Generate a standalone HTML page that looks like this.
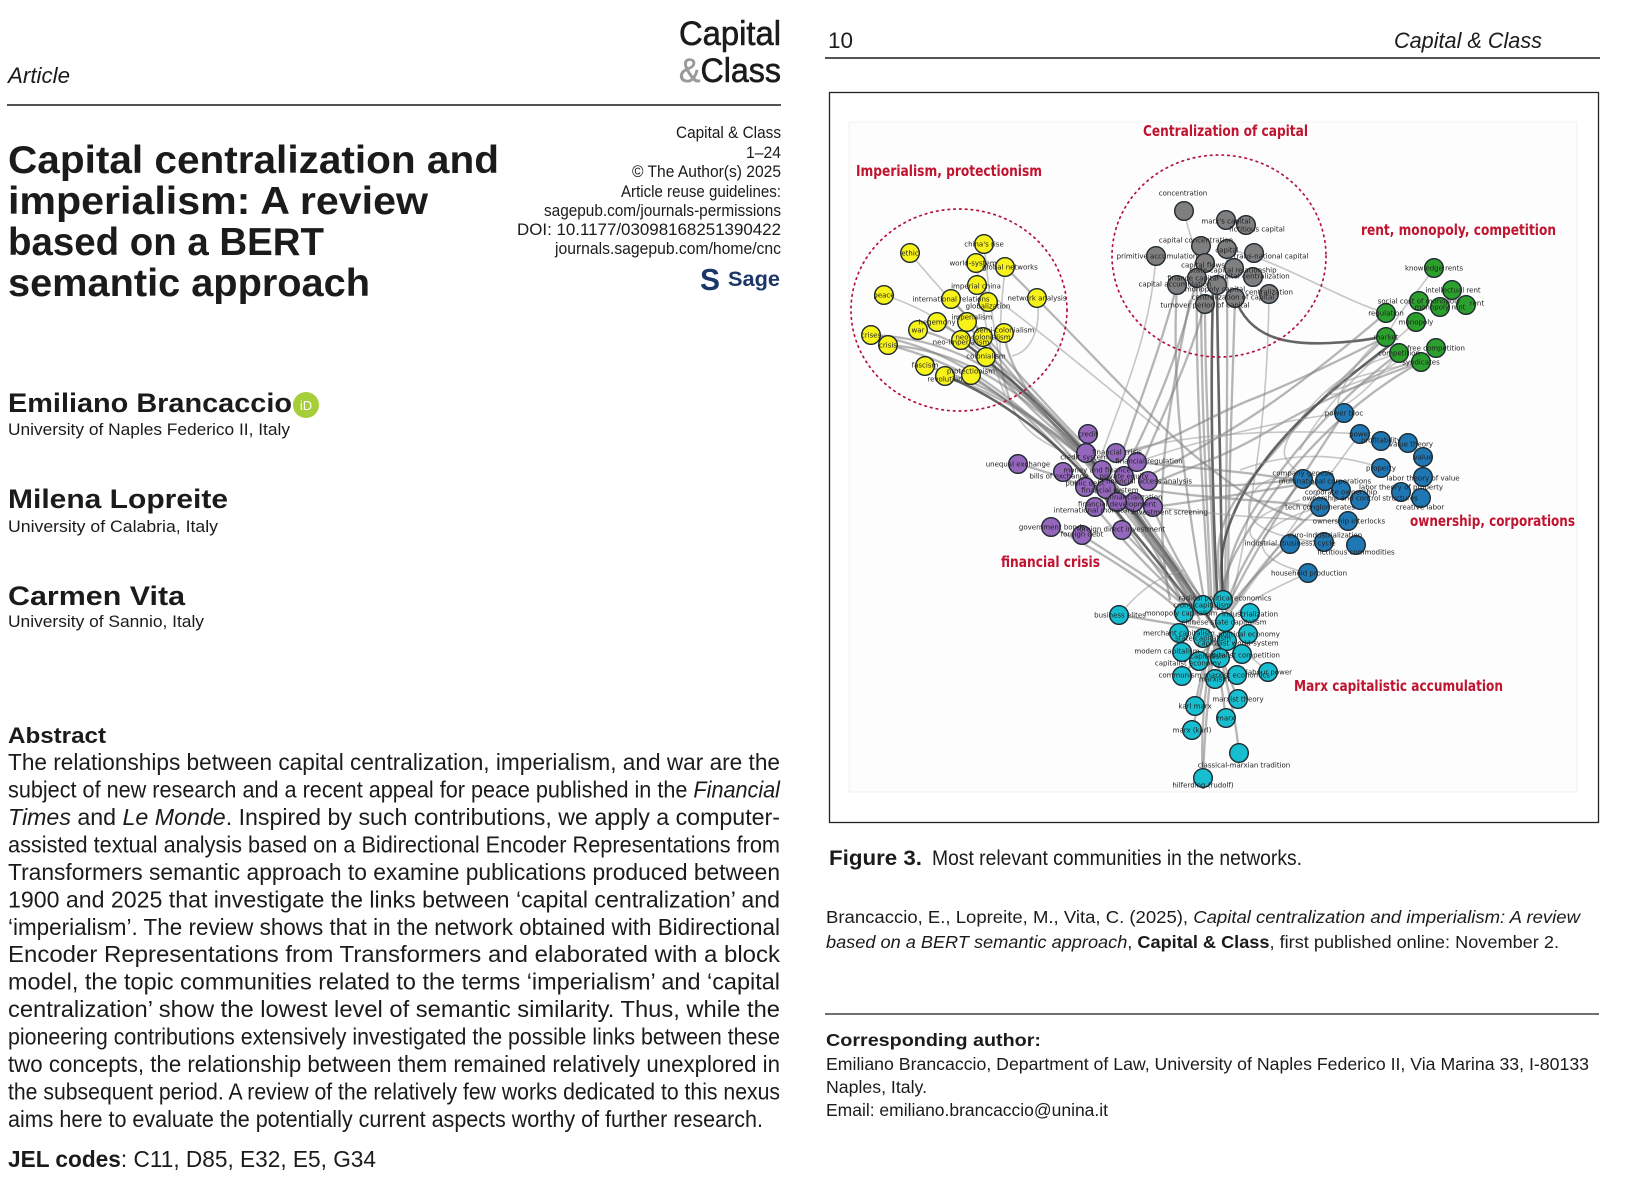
<!DOCTYPE html>
<html><head><meta charset="utf-8"><style>
html,body{margin:0;padding:0;background:#fff}
svg{display:block}
.t{font-family:"Liberation Sans",sans-serif;fill:#1c1a1b}
.b{font-weight:bold}
.i{font-style:italic}
.lab{font-family:"DejaVu Sans","Liberation Sans",sans-serif;font-size:7px;fill:#222;text-anchor:middle}
.red{font-family:"DejaVu Sans","Liberation Sans",sans-serif;font-weight:bold;fill:#c0132f}
.e{fill:none;stroke:#7a7a7a;stroke-opacity:.55;stroke-width:2.3}
.ed{fill:none;stroke:#4a4a4a;stroke-opacity:.85;stroke-width:2.6}
.el{fill:none;stroke:#999;stroke-opacity:.55;stroke-width:1.6}
.ny{fill:#f7f21a}.ng{fill:#7f7f7f}.ngr{fill:#2ca02c}.np{fill:#9467bd}.nb{fill:#1f77b4}.nc{fill:#17becf}
circle.n{stroke:#1e2a30;stroke-width:1.4}
.dash{fill:none;stroke:#b3123a;stroke-width:1.7;stroke-dasharray:1.5 4.3;stroke-linecap:round}
</style></head><body>
<svg width="1636" height="1196" viewBox="0 0 1636 1196" xmlns="http://www.w3.org/2000/svg">
<rect width="1636" height="1196" fill="#fff"/>

<!-- LEFT PAGE -->
<text class="t i" x="8" y="83" font-size="22" textLength="62" lengthAdjust="spacingAndGlyphs">Article</text>
<text class="t" x="679" y="45" font-size="34" stroke="#1c1a1b" stroke-width="0.6" textLength="102" lengthAdjust="spacingAndGlyphs">Capital</text>
<text class="t" x="679" y="82" font-size="34" stroke="#1c1a1b" stroke-width="0.6" textLength="102" lengthAdjust="spacingAndGlyphs"><tspan fill="#9a9a9a" stroke="#9a9a9a">&amp;</tspan>Class</text>
<line x1="7" y1="105" x2="781" y2="105" stroke="#1c1a1b" stroke-width="1.5"/>

<text class="t b" x="8" y="173" font-size="39" textLength="491" lengthAdjust="spacingAndGlyphs">Capital centralization and</text>
<text class="t b" x="8" y="214" font-size="39" textLength="420" lengthAdjust="spacingAndGlyphs">imperialism: A review</text>
<text class="t b" x="8" y="255" font-size="39" textLength="316" lengthAdjust="spacingAndGlyphs">based on a BERT</text>
<text class="t b" x="8" y="296" font-size="39" textLength="362" lengthAdjust="spacingAndGlyphs">semantic approach</text>

<g class="t" font-size="16.5">
<text x="676" y="138" textLength="105" lengthAdjust="spacingAndGlyphs">Capital &amp; Class</text>
<text x="746" y="158" textLength="35" lengthAdjust="spacingAndGlyphs">1–24</text>
<text x="632" y="177" textLength="149" lengthAdjust="spacingAndGlyphs">© The Author(s) 2025</text>
<text x="621" y="197" textLength="160" lengthAdjust="spacingAndGlyphs">Article reuse guidelines:</text>
<text x="544" y="216" textLength="237" lengthAdjust="spacingAndGlyphs">sagepub.com/journals-permissions</text>
<text x="517" y="235" textLength="264" lengthAdjust="spacingAndGlyphs">DOI: 10.1177/03098168251390422</text>
<text x="555" y="254" textLength="226" lengthAdjust="spacingAndGlyphs">journals.sagepub.com/home/cnc</text>
</g>
<text x="700" y="290" font-family="Liberation Sans,sans-serif" font-weight="bold" font-size="31" fill="#1b3768" textLength="20" lengthAdjust="spacingAndGlyphs">S</text>
<text x="728" y="286" font-family="Liberation Sans,sans-serif" font-weight="bold" font-size="21" fill="#1b3768" textLength="52" lengthAdjust="spacingAndGlyphs">Sage</text>

<text class="t b" x="8" y="412" font-size="27" textLength="284" lengthAdjust="spacingAndGlyphs">Emiliano Brancaccio</text>
<circle cx="306" cy="405" r="13" fill="#a6ce39"/>
<text x="306" y="410" font-family="Liberation Sans,sans-serif" font-size="13" fill="#fff" text-anchor="middle">iD</text>
<text class="t" x="8" y="435" font-size="17" textLength="282" lengthAdjust="spacingAndGlyphs">University of Naples Federico II, Italy</text>
<text class="t b" x="8" y="508" font-size="27" textLength="220" lengthAdjust="spacingAndGlyphs">Milena Lopreite</text>
<text class="t" x="8" y="532" font-size="17" textLength="210" lengthAdjust="spacingAndGlyphs">University of Calabria, Italy</text>
<text class="t b" x="8" y="605" font-size="27" textLength="177" lengthAdjust="spacingAndGlyphs">Carmen Vita</text>
<text class="t" x="8" y="627" font-size="17" textLength="196" lengthAdjust="spacingAndGlyphs">University of Sannio, Italy</text>

<text class="t b" x="8" y="743" font-size="22" textLength="98" lengthAdjust="spacingAndGlyphs">Abstract</text>
<g class="t" font-size="23">
<text x="8" y="770" textLength="772" lengthAdjust="spacingAndGlyphs">The relationships between capital centralization, imperialism, and war are the</text>
<text x="8" y="797.5" textLength="772" lengthAdjust="spacingAndGlyphs">subject of new research and a recent appeal for peace published in the <tspan class="i">Financial</tspan></text>
<text x="8" y="825" textLength="772" lengthAdjust="spacingAndGlyphs"><tspan class="i">Times</tspan> and <tspan class="i">Le Monde</tspan>. Inspired by such contributions, we apply a computer-</text>
<text x="8" y="852.4" textLength="772" lengthAdjust="spacingAndGlyphs">assisted textual analysis based on a Bidirectional Encoder Representations from</text>
<text x="8" y="879.8" textLength="772" lengthAdjust="spacingAndGlyphs">Transformers semantic approach to examine publications produced between</text>
<text x="8" y="907.3" textLength="772" lengthAdjust="spacingAndGlyphs">1900 and 2025 that investigate the links between ‘capital centralization’ and</text>
<text x="8" y="934.8" textLength="772" lengthAdjust="spacingAndGlyphs">‘imperialism’. The review shows that in the network obtained with Bidirectional</text>
<text x="8" y="962.2" textLength="772" lengthAdjust="spacingAndGlyphs">Encoder Representations from Transformers and elaborated with a block</text>
<text x="8" y="989.7" textLength="772" lengthAdjust="spacingAndGlyphs">model, the topic communities related to the terms ‘imperialism’ and ‘capital</text>
<text x="8" y="1017.1" textLength="772" lengthAdjust="spacingAndGlyphs">centralization’ show the lowest level of semantic similarity. Thus, while the</text>
<text x="8" y="1044.6" textLength="772" lengthAdjust="spacingAndGlyphs">pioneering contributions extensively investigated the possible links between these</text>
<text x="8" y="1072" textLength="772" lengthAdjust="spacingAndGlyphs">two concepts, the relationship between them remained relatively unexplored in</text>
<text x="8" y="1099.5" textLength="772" lengthAdjust="spacingAndGlyphs">the subsequent period. A review of the relatively few works dedicated to this nexus</text>
<text x="8" y="1127" textLength="755" lengthAdjust="spacingAndGlyphs">aims here to evaluate the potentially current aspects worthy of further research.</text>
<text x="8" y="1167" textLength="368" lengthAdjust="spacingAndGlyphs"><tspan class="b">JEL codes</tspan>: C11, D85, E32, E5, G34</text>
</g>

<!-- RIGHT PAGE -->
<text class="t" x="828" y="48" font-size="22" textLength="25" lengthAdjust="spacingAndGlyphs">10</text>
<text class="t i" x="1394" y="48" font-size="22" textLength="148" lengthAdjust="spacingAndGlyphs">Capital &amp; Class</text>
<line x1="825" y1="58" x2="1600" y2="58" stroke="#1c1a1b" stroke-width="1.5"/>
<rect x="829.5" y="92.5" width="769" height="730" fill="#fff" stroke="#222" stroke-width="1.3"/>
<rect x="849" y="122" width="728" height="670" fill="#fdfdfd" stroke="#f0f0f0" stroke-width="1"/>

<!-- EDGES -->
<g>
<!-- yellow internal / yellow to purple & cyan -->
<path class="el" d="M910,253 C940,290 970,320 990,340"/>
<path class="el" d="M884,295 C930,310 960,330 990,370"/>
<path class="el" d="M984,244 C990,300 995,350 1010,400 S1080,450 1110,480"/>
<path class="el" d="M976,263 C985,320 990,360 1005,395"/>
<path class="el" d="M1005,267 C1000,320 995,370 1010,400"/>
<path class="el" d="M1037,298 C1042,330 1030,352 1012,356"/>
<path class="e" d="M1005,267 C1080,340 1150,420 1200,460 S1270,510 1303,520"/>
<path class="el" d="M977,285 C1040,330 1110,390 1160,430"/>
<path class="e" d="M871,335 C950,338 1000,370 1050,420 S1150,540 1200,610"/>
<path class="e" d="M888,345 C960,350 1010,385 1060,430 S1160,550 1205,615"/>
<path class="e" d="M918,330 C970,340 1020,390 1070,440 S1170,560 1210,620"/>
<path class="e" d="M967,322 C990,360 1030,400 1075,445 S1165,555 1200,620"/>
<path class="e" d="M986,357 C1010,390 1040,420 1080,450 S1160,560 1195,625"/>
<path class="e" d="M925,366 C980,380 1030,410 1085,460 S1175,570 1212,625"/>
<path class="e" d="M945,376 C990,390 1040,420 1090,460"/>
<path class="e" d="M971,375 C1000,395 1040,425 1100,470"/>
<path class="ed" d="M961,340 C1000,370 1050,410 1100,470 S1180,570 1215,628"/>
<path class="e" d="M1004,333 C1010,380 1050,420 1100,480"/>
<path class="e" d="M937,322 C990,350 1040,400 1090,455 S1160,545 1190,600"/>
<path class="e" d="M951,299 C990,340 1040,400 1080,440"/>
<path class="e" d="M888,345 C950,360 1000,390 1040,430 S1080,470 1090,480"/>
<path class="e" d="M871,335 C940,345 990,380 1040,425 S1120,520 1180,600"/>
<path class="e" d="M983,337 C1010,375 1045,410 1085,450 S1170,560 1205,612"/>
<path class="ed" d="M945,376 C995,395 1040,430 1070,460 S1150,550 1195,610"/>
<!-- gray to cyan -->
<path class="e" d="M1205,304 C1205,400 1212,500 1215,610"/>
<path class="ed" d="M1217,285 C1218,400 1222,500 1222,610"/>
<path class="e" d="M1227,249 C1228,400 1226,500 1225,605"/>
<path class="e" d="M1235,298 C1232,400 1228,500 1228,605"/>
<path class="e" d="M1197,278 C1195,400 1205,520 1210,615"/>
<path class="ed" d="M1213,290 C1210,400 1212,500 1218,610"/>
<path class="e" d="M1190,300 C1170,400 1150,500 1170,600"/>
<path class="e" d="M1201,246 C1200,400 1208,520 1212,612"/>
<path class="e" d="M1177,285 C1170,400 1190,520 1205,605"/>
<path class="el" d="M1269,294 C1268,380 1262,460 1232,600"/>
<path class="el" d="M1184,211 C1190,240 1200,260 1205,280"/>
<!-- gray to purple -->
<path class="e" d="M1177,285 C1160,350 1140,400 1120,460"/>
<path class="e" d="M1197,278 C1180,350 1160,400 1130,460"/>
<path class="e" d="M1205,304 C1190,360 1160,420 1140,470"/>
<path class="el" d="M1156,256 C1150,340 1120,400 1100,460"/>
<!-- gray to green -->
<path class="ed" d="M1235,298 C1250,340 1290,345 1330,343 S1375,337 1386,337"/>
<path class="el" d="M1227,249 C1280,260 1340,300 1386,313"/>
<!-- green to others -->
<path class="e" d="M1386,337 C1340,380 1300,420 1250,480 S1225,570 1220,610"/>
<path class="e" d="M1399,353 C1350,390 1300,440 1260,500 S1230,580 1222,612"/>
<path class="e" d="M1386,313 C1330,360 1280,400 1230,430 S1160,470 1140,480"/>
<path class="e" d="M1421,362 C1370,380 1320,400 1270,430 S1180,470 1150,485"/>
<path class="e" d="M1386,337 C1350,355 1300,380 1250,400 S1160,450 1117,453"/>
<path class="el" d="M1416,322 C1360,370 1320,410 1300,450"/>
<path class="el" d="M1399,353 C1360,365 1330,380 1300,420 S1290,460 1303,479"/>
<path class="ed" d="M1390,345 C1330,390 1270,440 1240,500 S1226,580 1224,610"/>
<path class="e" d="M1421,362 C1360,395 1300,450 1255,520 S1228,590 1226,612"/>
<path class="el" d="M1421,362 C1380,370 1340,380 1330,390 C1320,400 1350,395 1400,360"/>
<path class="el" d="M1436,348 C1400,370 1360,380 1330,392"/>
<path class="el" d="M1434,268 C1420,290 1400,310 1390,330"/>
<path class="el" d="M1386,337 C1370,345 1350,370 1340,395 S1360,400 1399,353"/>
<!-- purple to blue -->
<path class="e" d="M1148,481 C1200,490 1250,485 1303,479"/>
<path class="e" d="M1153,507 C1210,500 1260,490 1325,481"/>
<path class="e" d="M1137,462 C1200,470 1260,470 1341,490"/>
<path class="e" d="M1150,490 C1220,500 1270,500 1320,507"/>
<path class="el" d="M1153,507 C1220,515 1280,520 1348,521"/>
<path class="el" d="M1137,462 C1200,440 1280,420 1344,413"/>
<path class="el" d="M1117,453 C1200,430 1300,430 1360,434"/>
<path class="el" d="M1290,544 C1240,550 1230,520 1300,500"/>
<path class="el" d="M1308,573 C1250,560 1240,530 1320,507"/>
<path class="el" d="M1360,500 C1300,470 1260,470 1250,500 S1290,540 1324,542"/>
<path class="el" d="M1381,468 C1330,450 1280,455 1240,470"/>
<!-- blue to cyan -->
<path class="e" d="M1303,479 C1270,520 1240,560 1225,610"/>
<path class="e" d="M1320,507 C1280,540 1250,580 1230,612"/>
<path class="e" d="M1290,544 C1260,570 1240,590 1225,615"/>
<path class="el" d="M1308,573 C1270,590 1250,600 1235,615"/>
<path class="e" d="M1344,413 C1300,480 1260,540 1228,605"/>
<path class="el" d="M1360,434 C1310,500 1270,560 1232,610"/>
<!-- purple to cyan -->
<path class="e" d="M1122,530 C1150,560 1180,590 1200,610"/>
<path class="e" d="M1082,535 C1120,560 1170,590 1195,615"/>
<path class="e" d="M1051,527 C1100,550 1160,590 1190,620"/>
<path class="e" d="M1153,507 C1170,550 1190,580 1205,605"/>
<path class="e" d="M1095,507 C1130,550 1170,590 1200,615"/>
<path class="e" d="M1018,464 C1080,480 1110,500 1130,510"/>
<path class="e" d="M1106,489 C1140,530 1170,570 1208,608"/>
<path class="e" d="M1134,502 C1160,540 1185,580 1212,610"/>
<!-- cyan internal -->
<path class="e" d="M1203,778 C1205,720 1210,680 1215,640"/>
<path class="e" d="M1239,753 C1235,710 1225,680 1218,645"/>
<path class="e" d="M1192,730 C1200,700 1205,670 1210,640"/>
<path class="e" d="M1226,718 C1222,690 1218,665 1215,640"/>
<path class="e" d="M1195,706 C1200,680 1205,660 1210,640"/>
<path class="e" d="M1238,699 C1230,680 1222,660 1216,640"/>
<path class="e" d="M1119,615 C1150,620 1180,625 1210,630"/>
<path class="el" d="M1119,615 C1140,590 1160,575 1185,570"/>
<path class="el" d="M1268,672 C1250,655 1235,645 1215,635"/>
<path class="e" d="M1182,676 C1195,660 1205,650 1215,640"/>
<path class="e" d="M1203,778 C1200,730 1205,690 1212,650"/>
</g>

<!-- dashed circles -->
<ellipse class="dash" cx="959" cy="310" rx="108" ry="101"/>
<ellipse class="dash" cx="1219" cy="256" rx="107" ry="101"/>

<!-- NODES -->
<g>
<circle class="n ny" cx="984" cy="244" r="9.3"/><circle class="n ny" cx="910" cy="253" r="9.3"/>
<circle class="n ny" cx="976" cy="263" r="9.3"/><circle class="n ny" cx="1005" cy="267" r="9.3"/>
<circle class="n ny" cx="977" cy="285" r="9.3"/><circle class="n ny" cx="884" cy="295" r="9.3"/>
<circle class="n ny" cx="951" cy="299" r="9.3"/><circle class="n ny" cx="988" cy="302" r="9.3"/>
<circle class="n ny" cx="1037" cy="298" r="9.3"/><circle class="n ny" cx="937" cy="322" r="9.3"/>
<circle class="n ny" cx="967" cy="322" r="9.3"/><circle class="n ny" cx="918" cy="330" r="9.3"/>
<circle class="n ny" cx="871" cy="335" r="9.3"/><circle class="n ny" cx="888" cy="345" r="9.3"/>
<circle class="n ny" cx="1004" cy="333" r="9.3"/><circle class="n ny" cx="983" cy="337" r="9.3"/>
<circle class="n ny" cx="961" cy="340" r="9.3"/><circle class="n ny" cx="986" cy="357" r="9.3"/>
<circle class="n ny" cx="925" cy="366" r="9.3"/><circle class="n ny" cx="971" cy="375" r="9.3"/>
<circle class="n ny" cx="945" cy="376" r="9.3"/>

<circle class="n ng" cx="1184" cy="211" r="9.3"/><circle class="n ng" cx="1226" cy="220" r="9.3"/>
<circle class="n ng" cx="1246" cy="225" r="9.3"/><circle class="n ng" cx="1201" cy="246" r="9.3"/>
<circle class="n ng" cx="1227" cy="249" r="9.3"/><circle class="n ng" cx="1254" cy="253" r="9.3"/>
<circle class="n ng" cx="1156" cy="256" r="9.3"/><circle class="n ng" cx="1205" cy="263" r="9.3"/>
<circle class="n ng" cx="1234" cy="268" r="9.3"/><circle class="n ng" cx="1253" cy="277" r="9.3"/>
<circle class="n ng" cx="1197" cy="278" r="9.3"/><circle class="n ng" cx="1177" cy="285" r="9.3"/>
<circle class="n ng" cx="1217" cy="285" r="9.3"/><circle class="n ng" cx="1269" cy="294" r="9.3"/>
<circle class="n ng" cx="1235" cy="298" r="9.3"/><circle class="n ng" cx="1205" cy="304" r="9.3"/>

<circle class="n ngr" cx="1434" cy="268" r="9.3"/><circle class="n ngr" cx="1452" cy="290" r="9.3"/>
<circle class="n ngr" cx="1419" cy="301" r="9.3"/><circle class="n ngr" cx="1466" cy="305" r="9.3"/>
<circle class="n ngr" cx="1440" cy="307" r="9.3"/><circle class="n ngr" cx="1386" cy="313" r="9.3"/>
<circle class="n ngr" cx="1416" cy="322" r="9.3"/><circle class="n ngr" cx="1386" cy="337" r="9.3"/>
<circle class="n ngr" cx="1436" cy="348" r="9.3"/><circle class="n ngr" cx="1399" cy="353" r="9.3"/>
<circle class="n ngr" cx="1421" cy="362" r="9.3"/>

<circle class="n np" cx="1088" cy="434" r="9.3"/><circle class="n np" cx="1018" cy="464" r="9.3"/>
<circle class="n np" cx="1086" cy="453" r="9.3"/><circle class="n np" cx="1116" cy="453" r="9.3"/>
<circle class="n np" cx="1137" cy="462" r="9.3"/><circle class="n np" cx="1063" cy="472" r="9.3"/>
<circle class="n np" cx="1102" cy="470" r="9.3"/><circle class="n np" cx="1124" cy="476" r="9.3"/>
<circle class="n np" cx="1148" cy="481" r="9.3"/><circle class="n np" cx="1085" cy="487" r="9.3"/>
<circle class="n np" cx="1106" cy="489" r="9.3"/><circle class="n np" cx="1134" cy="502" r="9.3"/>
<circle class="n np" cx="1117" cy="502" r="9.3"/><circle class="n np" cx="1095" cy="507" r="9.3"/>
<circle class="n np" cx="1153" cy="507" r="9.3"/><circle class="n np" cx="1051" cy="527" r="9.3"/>
<circle class="n np" cx="1082" cy="535" r="9.3"/><circle class="n np" cx="1122" cy="530" r="9.3"/>

<circle class="n nb" cx="1344" cy="413" r="9.3"/><circle class="n nb" cx="1360" cy="434" r="9.3"/>
<circle class="n nb" cx="1381" cy="441" r="9.3"/><circle class="n nb" cx="1408" cy="443" r="9.3"/>
<circle class="n nb" cx="1423" cy="457" r="9.3"/><circle class="n nb" cx="1381" cy="468" r="9.3"/>
<circle class="n nb" cx="1423" cy="477" r="9.3"/><circle class="n nb" cx="1303" cy="479" r="9.3"/>
<circle class="n nb" cx="1325" cy="481" r="9.3"/><circle class="n nb" cx="1401" cy="492" r="9.3"/>
<circle class="n nb" cx="1341" cy="490" r="9.3"/><circle class="n nb" cx="1360" cy="500" r="9.3"/>
<circle class="n nb" cx="1421" cy="498" r="9.3"/><circle class="n nb" cx="1320" cy="507" r="9.3"/>
<circle class="n nb" cx="1348" cy="521" r="9.3"/><circle class="n nb" cx="1324" cy="542" r="9.3"/>
<circle class="n nb" cx="1290" cy="544" r="9.3"/><circle class="n nb" cx="1356" cy="545" r="9.3"/>
<circle class="n nb" cx="1308" cy="573" r="9.3"/>

<circle class="n nc" cx="1223" cy="600" r="9.3"/><circle class="n nc" cx="1203" cy="605" r="9.3"/>
<circle class="n nc" cx="1119" cy="615" r="9.3"/><circle class="n nc" cx="1184" cy="613" r="9.3"/>
<circle class="n nc" cx="1250" cy="613" r="9.3"/><circle class="n nc" cx="1225" cy="622" r="9.3"/>
<circle class="n nc" cx="1179" cy="633" r="9.3"/><circle class="n nc" cx="1248" cy="634" r="9.3"/>
<circle class="n nc" cx="1203" cy="638" r="9.3"/><circle class="n nc" cx="1227" cy="641" r="9.3"/>
<circle class="n nc" cx="1182" cy="652" r="9.3"/><circle class="n nc" cx="1242" cy="654" r="9.3"/>
<circle class="n nc" cx="1220" cy="658" r="9.3"/><circle class="n nc" cx="1199" cy="661" r="9.3"/>
<circle class="n nc" cx="1268" cy="672" r="9.3"/><circle class="n nc" cx="1182" cy="676" r="9.3"/>
<circle class="n nc" cx="1237" cy="675" r="9.3"/><circle class="n nc" cx="1215" cy="679" r="9.3"/>
<circle class="n nc" cx="1238" cy="699" r="9.3"/><circle class="n nc" cx="1195" cy="706" r="9.3"/>
<circle class="n nc" cx="1226" cy="718" r="9.3"/><circle class="n nc" cx="1192" cy="730" r="9.3"/>
<circle class="n nc" cx="1239" cy="753" r="9.3"/><circle class="n nc" cx="1203" cy="778" r="9.3"/>
</g>

<!-- NODE LABELS -->
<g class="lab">
<text x="984" y="246.5">china's rise</text><text x="910" y="255.5">ethic</text>
<text x="973" y="265.5">world-system</text><text x="1010" y="269.5">global networks</text>
<text x="976" y="288.5">imperial china</text><text x="884" y="297.5">peace</text>
<text x="951" y="301.5">international relations</text><text x="988" y="308.5">globalization</text>
<text x="1037" y="300.5">network analysis</text><text x="972" y="319.5">imperialism</text>
<text x="937" y="324.5">hegemony</text><text x="918" y="332.5">war</text>
<text x="871" y="337.5">crises</text><text x="888" y="347.5">crisis</text>
<text x="961" y="344.5">neo-imperialism</text><text x="983" y="339.5">neo-colonialism</text>
<text x="1005" y="332.5">semi-colonialism</text><text x="986" y="358.5">colonialism</text>
<text x="925" y="367.5">fascism</text><text x="971" y="373.5">protectionism</text>
<text x="945" y="381.5">revolution</text>

<text x="1183" y="195.5">concentration</text><text x="1226" y="223.5">marx's capital</text>
<text x="1257" y="231.5">fictitious capital</text><text x="1196" y="242.5">capital concentration</text>
<text x="1227" y="252.5">capital</text><text x="1271" y="258.5">trans-national capital</text>
<text x="1157" y="258.5">primitive accumulation</text><text x="1203" y="267.5">capital flows</text>
<text x="1233" y="272.5">state-capital relationship</text><text x="1253" y="278.5">capital centralization</text>
<text x="1193" y="280.5">finance capital</text><text x="1175" y="286.5">capital accumulation</text>
<text x="1215" y="291.5">monopoly capital</text><text x="1269" y="294.5">centralization</text>
<text x="1233" y="299.5">centralization of capital</text><text x="1205" y="307.5">turnover period of capital</text>

<text x="1434" y="270.5">knowledge rents</text><text x="1453" y="292.5">intellectual rent</text>
<text x="1477" y="305.5">rent</text><text x="1419" y="303.5">social cost of monopoly</text>
<text x="1440" y="309.5">monopoly rent</text><text x="1386" y="315.5">regulation</text>
<text x="1416" y="324.5">monopoly</text><text x="1386" y="339.5">market</text>
<text x="1436" y="350.5">free competition</text><text x="1399" y="355.5">competition</text>
<text x="1421" y="364.5">syndicates</text>

<text x="1088" y="436.5">credit</text><text x="1018" y="466.5">unequal exchange</text>
<text x="1084" y="459.5">credit system</text><text x="1117" y="454.5">financial crisis</text>
<text x="1149" y="463.5">financial regulation</text><text x="1059" y="478.5">bills of exchange</text>
<text x="1097" y="472.5">money and finance</text><text x="1124" y="478.5">private equity</text>
<text x="1149" y="483.5">financial access analysis</text><text x="1085" y="485.5">public debt</text>
<text x="1110" y="492.5">financial system</text><text x="1136" y="499.5">financialization</text>
<text x="1117" y="506.5">financial development</text><text x="1094" y="512.5">international monetary</text>
<text x="1170" y="514.5">investment screening</text><text x="1052" y="529.5">government bonds</text>
<text x="1082" y="536.5">foreign debt</text><text x="1121" y="531.5">foreign direct investment</text>

<text x="1344" y="415.5">power bloc</text><text x="1360" y="436.5">power</text>
<text x="1381" y="442.5">profitability</text><text x="1411" y="446.5">value theory</text>
<text x="1423" y="459.5">value</text><text x="1381" y="470.5">property</text>
<text x="1423" y="480.5">labor theory of value</text><text x="1303" y="475.5">company genesis</text>
<text x="1325" y="483.5">multinational corporations</text><text x="1401" y="489.5">labor theory of property</text>
<text x="1341" y="494.5">corporate ownership</text><text x="1360" y="500.5">ownership and control structures</text>
<text x="1420" y="509.5">creative labor</text><text x="1320" y="509.5">tech conglomerates</text>
<text x="1349" y="523.5">ownership interlocks</text><text x="1325" y="537.5">euro-industrialization</text>
<text x="1290" y="545.5">industrial (business) cycle</text><text x="1356" y="554.5">fictitious commodities</text>
<text x="1309" y="575.5">household production</text>

<text x="1225" y="600.5">radical political economics</text><text x="1202" y="607.5">crony capitalism</text>
<text x="1120" y="617.5">business elites</text><text x="1181" y="615.5">monopoly capitalism</text>
<text x="1250" y="616.5">industrialization</text><text x="1224" y="624.5">chinese state capitalism</text>
<text x="1179" y="635.5">merchant capitalism</text><text x="1249" y="636.5">political economy</text>
<text x="1203" y="640.5">state capitalism</text><text x="1238" y="645.5">capitalist world-system</text>
<text x="1167" y="653.5">modern capitalism</text><text x="1242" y="657.5">capitalist competition</text>
<text x="1208" y="658.5">capitalism</text><text x="1188" y="665.5">capitalist economy</text>
<text x="1269" y="674.5">labour power</text><text x="1180" y="677.5">communism</text>
<text x="1237" y="677.5">marxist economics</text><text x="1214" y="681.5">marxism</text>
<text x="1238" y="701.5">marxist theory</text><text x="1195" y="708.5">karl marx</text>
<text x="1226" y="720.5">marx</text><text x="1192" y="732.5">marx (karl)</text>
<text x="1244" y="767.5">classical-marxian tradition</text><text x="1203" y="787.5">hilferding (rudolf)</text>
</g>

<!-- community titles -->
<text class="red" x="856" y="176" font-size="15" textLength="186" lengthAdjust="spacingAndGlyphs">Imperialism, protectionism</text>
<text class="red" x="1143" y="136" font-size="15" textLength="165" lengthAdjust="spacingAndGlyphs">Centralization of capital</text>
<text class="red" x="1361" y="235" font-size="15" textLength="195" lengthAdjust="spacingAndGlyphs">rent, monopoly, competition</text>
<text class="red" x="1001" y="567" font-size="15" textLength="99" lengthAdjust="spacingAndGlyphs">financial crisis</text>
<text class="red" x="1410" y="526" font-size="15" textLength="165" lengthAdjust="spacingAndGlyphs">ownership, corporations</text>
<text class="red" x="1294" y="691" font-size="15" textLength="209" lengthAdjust="spacingAndGlyphs">Marx capitalistic accumulation</text>

<!-- caption -->
<text class="t b" x="829" y="865" font-size="21" textLength="93" lengthAdjust="spacingAndGlyphs">Figure 3.</text>
<text class="t" x="932" y="865" font-size="21" textLength="370" lengthAdjust="spacingAndGlyphs">Most relevant communities in the networks.</text>

<text class="t" x="826" y="923" font-size="17.5" textLength="754" lengthAdjust="spacingAndGlyphs">Brancaccio, E., Lopreite, M., Vita, C. (2025), <tspan class="i">Capital centralization and imperialism: A review</tspan></text>
<text class="t" x="826" y="948" font-size="17.5" textLength="733" lengthAdjust="spacingAndGlyphs"><tspan class="i">based on a BERT semantic approach</tspan>, <tspan class="b">Capital &amp; Class</tspan>, first published online: November 2.</text>

<line x1="825" y1="1014" x2="1599" y2="1014" stroke="#1c1a1b" stroke-width="1.2"/>
<text class="t b" x="826" y="1046" font-size="17.5" textLength="215" lengthAdjust="spacingAndGlyphs">Corresponding author:</text>
<text class="t" x="826" y="1070" font-size="17.5" textLength="763" lengthAdjust="spacingAndGlyphs">Emiliano Brancaccio, Department of Law, University of Naples Federico II, Via Marina 33, I-80133</text>
<text class="t" x="826" y="1093" font-size="17.5" textLength="101" lengthAdjust="spacingAndGlyphs">Naples, Italy.</text>
<text class="t" x="826" y="1116" font-size="17.5" textLength="282" lengthAdjust="spacingAndGlyphs">Email: emiliano.brancaccio@unina.it</text>
</svg>
</body></html>
